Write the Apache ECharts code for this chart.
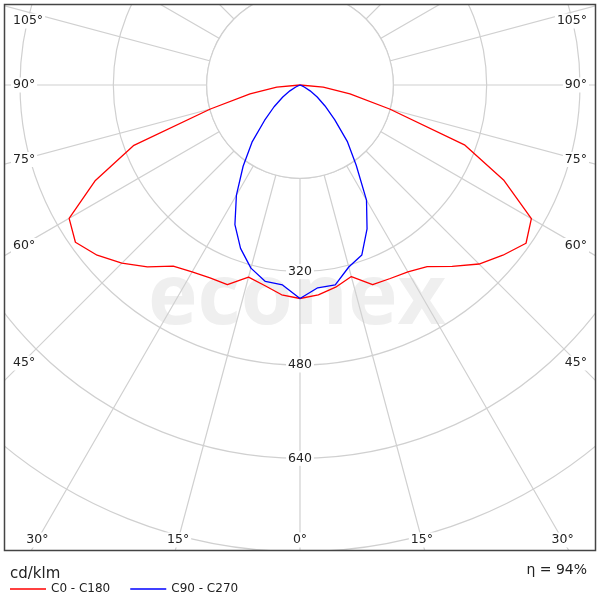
<!DOCTYPE html>
<html>
<head>
<meta charset="utf-8">
<script src="https://cdn.jsdelivr.net/npm/echarts@6/dist/echarts.min.js"></script>
<style>
  html, body { margin: 0; padding: 0; background: #fff; }
  #chart { width: 600px; height: 600px; }
</style>
</head>
<body>
<div id="chart"></div>
<script>
  // gamma angle from nadir, 5 degree steps
  const angles = [0, 5, 10, 15, 20, 25, 30, 35, 40, 45, 50, 55, 60, 65, 70, 75, 80, 85, 90];
  // cd/klm, right half (C0 / C90) and left half (C180 / C270)
  const c0   = [366, 361, 352, 340, 364, 366, 370, 380, 406, 434, 454, 473, 458, 385, 300, 159, 87, 40, 0];
  const c180 = [366, 361, 349, 341, 364, 365, 370, 379, 407, 432, 454, 470, 457, 387, 304, 159, 87, 40, 0];
  const c90  = [366, 349, 348, 323, 310, 272, 228, 168, 126, 84, 56, 36, 20, 8, 3, 0, 0, 0, 0];
  const c270 = [366, 344, 342, 325, 298, 264, 218, 170, 128, 86, 58, 36, 20, 8, 3, 0, 0, 0, 0];

  const ringLabels = [320, 480, 640];
  const angleLabels = [-105, -90, -75, -60, -45, -30, -15, 0, 15, 30, 45, 60, 75, 90, 105];
  const unitText = 'cd/klm';
  const etaText = 'η = 94%';

  const innerRing = 160, rMax = 960, rStep = 160;
  const font = 'DejaVu Sans';
  const gridColor = '#d0d0d0';
  const box = { x: 4, y: 4, w: 592, h: 547 };

  // left half gets negative angles, right half positive
  function curve(right, left) {
    const pts = [];
    for (let i = left.length - 1; i > 0; i--) pts.push([left[i], -angles[i]]);
    for (let i = 0; i < right.length; i++) pts.push([right[i], angles[i]]);
    return pts;
  }

  const chart = echarts.init(document.getElementById('chart'));

  chart.setOption({
    animation: false,
    backgroundColor: '#fff',
    textStyle: { fontFamily: font },
    title: [
      { text: unitText, left: 5, top: 562, textStyle: { fontSize: 15, fontWeight: 'normal', color: '#222', fontFamily: font }, z: 60 },
      { text: etaText, right: 8, top: 558, textStyle: { fontSize: 14, fontWeight: 'normal', color: '#222', fontFamily: font }, z: 60 }
    ],
    legend: {
      left: 5, top: 578, icon: 'rect', itemWidth: 36, itemHeight: 1.5, itemGap: 20, z: 60,
      textStyle: { fontSize: 12, color: '#222', fontFamily: font },
      data: ['C0 - C180', 'C90 - C270']
    },
    polar: { center: [300, 85], radius: [0, 560] },
    angleAxis: {
      type: 'value', min: -180, max: 180, interval: 15,
      startAngle: 90, clockwise: false,
      axisLine: { show: false }, axisTick: { show: false }, axisLabel: { show: false },
      splitLine: { show: true, lineStyle: { color: gridColor, width: 1.2 } }
    },
    radiusAxis: {
      type: 'value', min: 0, max: rMax, interval: rStep,
      axisLine: { show: false }, axisTick: { show: false }, axisLabel: { show: false },
      splitLine: { show: true, lineStyle: { color: gridColor, width: 1.2 } }
    },
    series: [
      {
        name: 'C0 - C180', type: 'line', coordinateSystem: 'polar',
        symbol: 'none', data: curve(c0, c180),
        lineStyle: { color: '#ff0000', width: 1.3 }, itemStyle: { color: '#ff0000' }
      },
      {
        name: 'C90 - C270', type: 'line', coordinateSystem: 'polar',
        symbol: 'none', data: curve(c90, c270),
        lineStyle: { color: '#0000ff', width: 1.3 }, itemStyle: { color: '#0000ff' }
      }
    ]
  });

  function toPx(r, a) {
    return chart.convertToPixel({ seriesIndex: 0 }, [r, a]);
  }

  const labelStyle = { fontSize: 12.5, fontFamily: font, fill: '#222', backgroundColor: '#fff', padding: [1, 2] };
  const graphics = [];

  // watermark behind everything
  graphics.push({
    type: 'text', x: 297, y: 300, z: -10, silent: true,
    style: { text: 'econex', align: 'center', verticalAlign: 'middle', fontSize: 84, fontWeight: 'bold', fontFamily: 'Open Sans', fill: '#efefef' }
  });

  // spokes start at the first ring: cover the middle with a plain disk
  const c = toPx(0, 0), e = toPx(innerRing, 0);
  graphics.push({
    type: 'circle', z: 1, silent: true,
    shape: { cx: c[0], cy: c[1], r: Math.hypot(e[0] - c[0], e[1] - c[1]) },
    style: { fill: '#fff', stroke: gridColor, lineWidth: 1.2 }
  });

  // white masks outside the frame
  const masks = [
    [0, 0, 600, box.y], [0, 0, box.x, 600],
    [box.x + box.w, 0, 600 - box.x - box.w, 600], [0, box.y + box.h, 600, 600 - box.y - box.h]
  ];
  masks.forEach(m => graphics.push({
    type: 'rect', z: 50, silent: true,
    shape: { x: m[0], y: m[1], width: m[2], height: m[3] }, style: { fill: '#fff' }
  }));
  graphics.push({
    type: 'rect', z: 51, silent: true,
    shape: { x: box.x + 0.5, y: box.y + 0.5, width: box.w - 1, height: box.h - 1 },
    style: { fill: 'none', stroke: '#444', lineWidth: 1.5 }
  });

  // angle labels where each spoke meets the frame
  angleLabels.forEach(a => {
    const p = toPx(innerRing, a), q = toPx(rMax, a);
    const dx = q[0] - p[0], dy = q[1] - p[1];
    const bottomY = box.y + box.h - 11;
    const sideX = dx < 0 ? box.x + 18 : box.x + box.w - 18;
    const tBottom = dy > 0 ? (bottomY - p[1]) / dy : Infinity;
    const tSide = Math.abs(dx) > 1e-6 ? (sideX - p[0]) / dx : Infinity;
    const text = Math.abs(a) + '°';
    if (tBottom <= tSide) {
      graphics.push({
        type: 'text', z: 52, x: p[0] + dx * tBottom, y: bottomY,
        style: Object.assign({ text: text, align: 'center', verticalAlign: 'middle' }, labelStyle)
      });
    } else {
      const y = Math.max(p[1] + dy * tSide, box.y + 17);
      graphics.push({
        type: 'text', z: 52, x: dx < 0 ? box.x + 7 : box.x + box.w - 7, y: y,
        style: Object.assign({ text: text, align: dx < 0 ? 'left' : 'right', verticalAlign: 'middle' }, labelStyle)
      });
    }
  });

  // intensity labels on the nadir spoke
  ringLabels.forEach(r => {
    const p = toPx(r, 0);
    graphics.push({
      type: 'text', z: 52, x: p[0], y: p[1],
      style: Object.assign({ text: String(r), align: 'center', verticalAlign: 'middle' }, labelStyle)
    });
  });

  chart.setOption({ graphic: graphics });
</script>
</body>
</html>
